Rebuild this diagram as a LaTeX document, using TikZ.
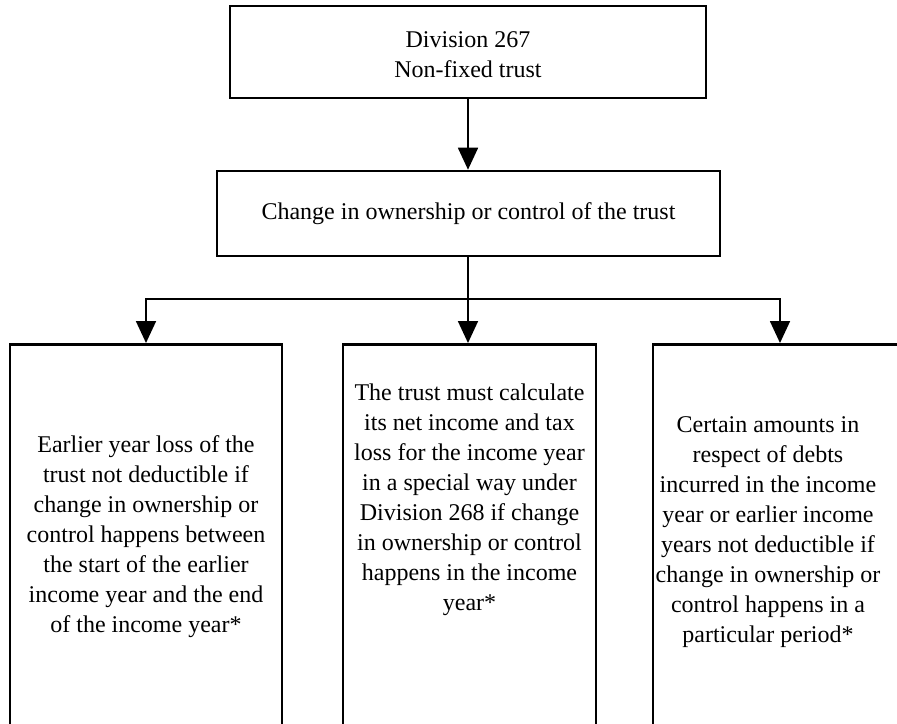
\documentclass[tikz,border=0pt]{standalone}
\usepackage{fontspec}
\setmainfont{Liberation Serif}
\usetikzlibrary{arrows.meta}
\begin{document}
\begin{tikzpicture}[x=1pt,y=1pt,
  box/.style={draw,line width=2.6pt,inner sep=0pt,align=center,font=\fontsize{24}{30}\selectfont},
  txt/.style={inner sep=0pt,align=center,font=\fontsize{24}{30}\selectfont},
  conn/.style={line width=1.8pt},
  arr/.style={conn,-{Triangle[length=22pt,width=20pt]}}]
\useasboundingbox (0,0) rectangle (897,-723);
\clip (0,0) rectangle (897,-723);
\node[box,minimum width=476pt,minimum height=92pt] (top) at (468,-52) {};
\node[txt] (topt) at (468,-55) {Division 267\\Non-fixed trust};
\node[box,minimum width=503pt,minimum height=85pt] (mid) at (468.5,-213.5) {Change in ownership or control of the trust};
\node[box,minimum width=272pt,minimum height=400pt,anchor=north] (L) at (146,-343) {};
\node[box,minimum width=253pt,minimum height=400pt,anchor=north] (M) at (469.5,-343) {};
\node[box,minimum width=254pt,minimum height=400pt,anchor=north] (R) at (780,-343) {};
\node[txt] (Lt) at (146,-537) {Earlier year loss of the\\trust not deductible if\\change in ownership or\\control happens between\\the start of the earlier\\income year and the end\\of the income year*};
\node[txt] (Mt) at (469.5,-500) {The trust must calculate\\its net income and tax\\loss for the income year\\in a special way under\\Division 268 if change\\in ownership or control\\happens in the income\\year*};
\node[txt] (Rt) at (768,-532) {Certain amounts in\\respect of debts\\incurred in the income\\year or earlier income\\years not deductible if\\change in ownership or\\control happens in a\\particular period*};
\coordinate (J) at (468,-299);
\draw[arr] (top.south) -- (top.south |- mid.north);
\draw[conn] (mid.south -| J) -- (J);
\draw[arr] (J) -- (J |- M.north);
\draw[arr] (J) -| (L.north);
\draw[arr] (J) -| (R.north);
\end{tikzpicture}
\end{document}
